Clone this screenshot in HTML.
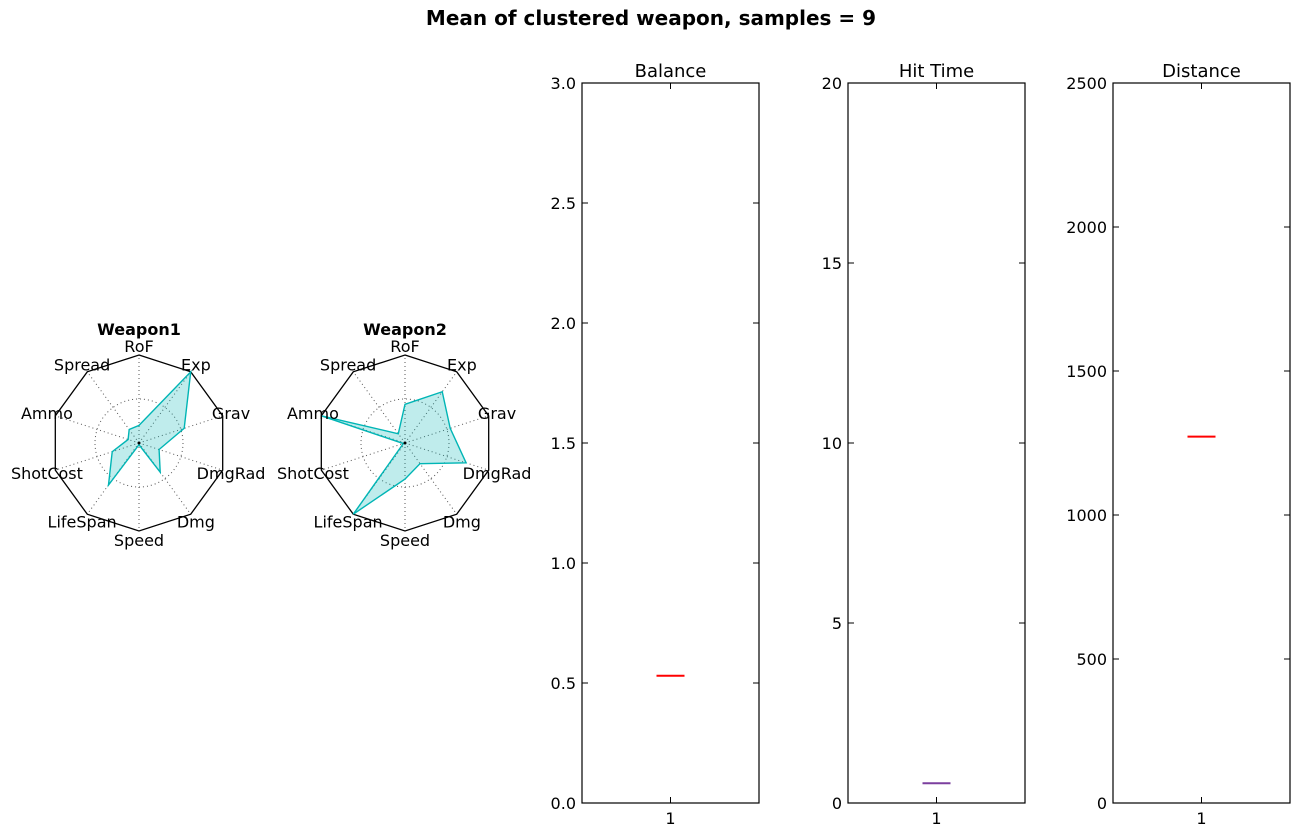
<!DOCTYPE html>
<html><head><meta charset="utf-8"><style>
body{margin:0;background:#fff;}
svg{display:block;font-family:"DejaVu Sans","Liberation Sans",sans-serif;}
</style></head><body>
<svg id="fig" width="1300" height="837" viewBox="0 0 1300 837">
<rect width="1300" height="837" fill="#fff"/>
<text x="651" y="25" text-anchor="middle" font-size="20" font-weight="bold">Mean of clustered weapon, samples = 9</text>
</svg>
<script>
const radarLabels = ["RoF","Exp","Grav","DmgRad","Dmg","Speed","LifeSpan","ShotCost","Ammo","Spread"];
const weapon1Values = [0.2,1.0,0.54,0.24,0.41,0.02,0.59,0.32,0.13,0.19];
const weapon2Values = [0.44,0.72,0.54,0.73,0.29,0.41,1.0,0.02,1.0,0.13];
const radarTitles = ["Weapon1","Weapon2"];
const boxTitles = ["Balance","Hit Time","Distance"];
const boxMax = [3,20,2500];
const boxTicks = [["0.0","0.5","1.0","1.5","2.0","2.5","3.0"],["0","5","10","15","20"],["0","500","1000","1500","2000","2500"]];
const boxMedians = [0.53,0.55,1272];
const boxColors = ["#ff0000","#7b3f9e","#ff0000"];

const NS="http://www.w3.org/2000/svg";
const svg=document.getElementById('fig');
function mk(tag,attrs,parent){const e=document.createElementNS(NS,tag);for(const k in attrs)e.setAttribute(k,attrs[k]);(parent||svg).appendChild(e);return e;}

function radar(cx,cy,R,vals,title){
  const g=mk('g',{});
  
  
  const n=radarLabels.length;
  const ang=i=>i*2*Math.PI/n;
  const pt=(i,r)=>[cx+R*r*Math.sin(ang(i)),cy-R*r*Math.cos(ang(i))];
  const ring=mk('circle',{cx:cx,cy:cy,r:R*0.5,fill:'none',stroke:'#555','stroke-dasharray':'1,3','stroke-width':1},g);
  
  
  for(let i=0;i<n;i++){const p=pt(i,1);
    const l=mk('line',{x1:cx,y1:cy,x2:p[0],y2:p[1],stroke:'#555','stroke-dasharray':'1,3','stroke-width':1},g);
    
    }
  const fr=mk('polygon',{points:radarLabels.map((_,i)=>pt(i,1).join(',')).join(' '),fill:'none',stroke:'#000','stroke-width':1.3},g);
  
  
  const poly=mk('polygon',{points:vals.map((v,i)=>pt(i,v).join(',')).join(' '),fill:'rgba(0,180,180,0.25)',stroke:'#00b5b5','stroke-width':1.4},g);
  
  
  const c=mk('circle',{cx:cx,cy:cy,r:1.5,fill:'#000'},g);
  
  
  for(let i=0;i<n;i++){const p=pt(i,1.1);
    const t=mk('text',{x:p[0],y:p[1]+6,'text-anchor':'middle','font-size':16},g);
    t.textContent=radarLabels[i];
    
    }
  const tt=mk('text',{x:cx,y:cy-108,'text-anchor':'middle','font-size':16,'font-weight':'bold'},g);
  tt.textContent=title;
  
  
}
radar(139,443,88,weapon1Values,radarTitles[0]);
radar(405,443,88,weapon2Values,radarTitles[1]);

const lefts=[582,848,1113];
const W=177,yTop=83,yBot=803;
boxTitles.forEach((title,k)=>{
  const x0=lefts[k];
  const g=mk('g',{});
  
  
  const y=v=>yBot-(v/boxMax[k])*(yBot-yTop);
  const fr=mk('rect',{x:x0,y:yTop,width:W,height:yBot-yTop,fill:'none',stroke:'#000','stroke-width':1.2},g);
  
  
  boxTicks[k].forEach(lbl=>{
    const v=parseFloat(lbl);const yy=y(v);
    mk('line',{x1:x0,y1:yy,x2:x0+6,y2:yy,stroke:'#000'},g);
    mk('line',{x1:x0+W,y1:yy,x2:x0+W-6,y2:yy,stroke:'#000'},g);
    const t=mk('text',{x:x0-6,y:yy+6,'text-anchor':'end','font-size':16},g);
    t.textContent=lbl;
    
    
  });
  const cx=x0+W/2;
  mk('line',{x1:cx,y1:yTop,x2:cx,y2:yTop+6,stroke:'#000'},g);
  mk('line',{x1:cx,y1:yBot,x2:cx,y2:yBot-6,stroke:'#000'},g);
  const xt=mk('text',{x:cx,y:yBot+21,'text-anchor':'middle','font-size':16},g);
  xt.textContent='1';
  
  
  const tt=mk('text',{x:cx,y:yTop-6,'text-anchor':'middle','font-size':18},g);
  tt.textContent=title;
  
  
  const m=mk('line',{x1:cx-14,y1:y(boxMedians[k]),x2:cx+14,y2:y(boxMedians[k]),stroke:boxColors[k],'stroke-width':2},g);
  
  
});
</script>
</body></html>
